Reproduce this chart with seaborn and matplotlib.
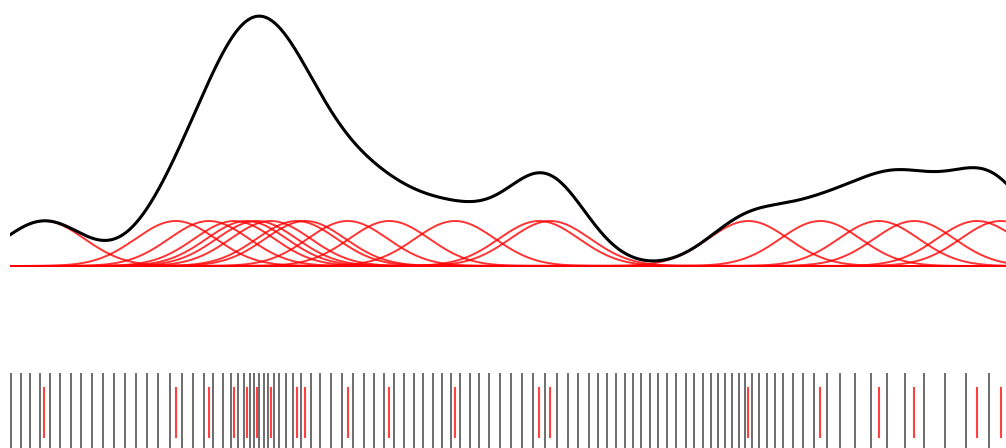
import numpy as np
import pandas as pd
import matplotlib
matplotlib.use("Agg")
import matplotlib.pyplot as plt
import seaborn as sns

# Observed samples (red): each one gets its own Gaussian kernel
samples = [4.43, 17.57, 20.90, 23.43, 24.67, 25.67, 27.07, 29.67, 30.53,
           34.77, 38.93, 45.50, 53.90, 55.03, 74.83, 82.03, 87.87, 91.43,
           97.70, 100.07]

# Reference positions (black rug)
reference = [1.10, 2.07, 3.00, 4.00, 5.00, 6.03, 7.07, 8.10, 9.20, 10.27,
             11.37, 12.47, 13.57, 14.70, 15.83, 17.03, 18.20, 19.27, 20.37,
             21.33, 22.27, 23.10, 23.80, 24.43, 24.95, 25.43, 25.90, 26.37,
             26.83, 27.37, 27.93, 28.58, 29.30, 30.10, 31.05, 32.03, 33.10,
             34.23, 35.33, 36.40, 37.43, 38.43, 39.40, 40.40, 41.35, 42.28,
             43.25, 44.17, 45.07, 46.00, 46.97, 47.93, 48.93, 50.00, 51.10,
             52.20, 53.33, 54.47, 55.65, 56.77, 57.83, 58.85, 59.82, 60.72,
             61.58, 62.47, 63.30, 64.13, 65.00, 65.83, 66.73, 67.62, 68.57,
             69.43, 70.25, 71.05, 71.78, 72.52, 73.18, 73.85, 74.53, 75.20,
             75.93, 76.67, 77.45, 78.30, 79.27, 80.33, 81.42, 82.67, 84.00,
             85.50, 87.05, 88.73, 90.52, 92.42, 94.45, 96.62, 98.93]

bandwidth = 4.0
x_range = (1.0, 100.6)

grid = np.linspace(x_range[0], x_range[1], 1200)
kernels = pd.DataFrame({
    "x": np.tile(grid, len(samples)),
    "sample": np.repeat(np.arange(len(samples)), grid.size),
    "k": np.concatenate([np.exp(-0.5 * ((grid - s) / bandwidth) ** 2)
                         for s in samples]),
})
density = kernels.groupby("x", as_index=False)["k"].sum()

W, H = 1006, 448
fig = plt.figure(figsize=(W / 100, H / 100), dpi=100)
left, width = 10 / W, 996 / W

# Density panel: baseline 266 px from the top, one kernel unit = 45 px
unit = 45.0
ax = fig.add_axes([left, 1 - 280 / H, width, 280 / H])
sns.lineplot(data=kernels, x="x", y="k", units="sample", estimator=None,
             color="red", linewidth=1.4, alpha=0.8, ax=ax)
sns.lineplot(data=density, x="x", y="k", color="black", linewidth=2.2, ax=ax)
ax.set_xlim(*x_range)
ax.set_ylim(-14 / unit, 266 / unit)
ax.axis("off")

# Reference rug
ax_ref = fig.add_axes([left, 0, width, 75 / H])
sns.rugplot(x=reference, height=1.0, color="black", linewidth=1.3,
            alpha=0.62, expand_margins=False, ax=ax_ref)
ax_ref.set_xlim(*x_range)
ax_ref.set_ylim(0, 1)
ax_ref.axis("off")

# Sample rug
ax_smp = fig.add_axes([left, 1 - 437.7 / H, width, 51 / H])
sns.rugplot(x=samples, height=1.0, color="red", linewidth=1.5, alpha=0.75,
            expand_margins=False, ax=ax_smp)
ax_smp.set_xlim(*x_range)
ax_smp.set_ylim(0, 1)
ax_smp.axis("off")

fig.savefig("out.png", dpi=100)
